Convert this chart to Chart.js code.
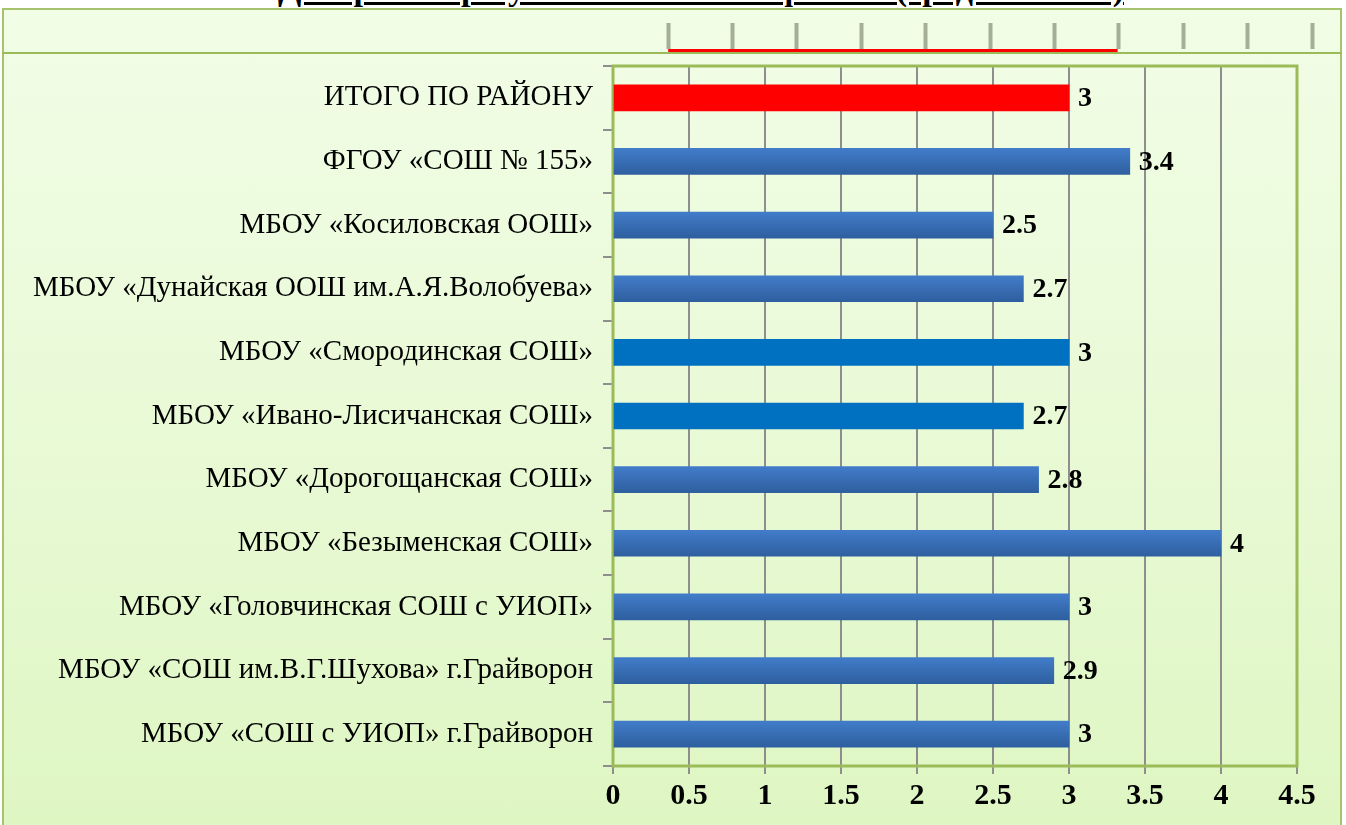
<!DOCTYPE html>
<html lang="ru">
<head>
<meta charset="utf-8">
<title>Диаграмма результатов</title>
<script src="https://cdn.jsdelivr.net/npm/chart.js@4.4.0/dist/chart.umd.min.js"></script>
<style>
    body { margin: 0; background: #fff; width: 1346px; height: 825px; overflow: hidden; position: relative; font-family: 'Liberation Serif', serif; }
    #title { position: absolute; top: -28px; left: 701px; transform: translateX(-50%); white-space: nowrap;
        font-size: 34px; line-height: 34px; font-weight: bold; text-decoration: underline; color: #000; }
    #panel { position: absolute; left: 2px; top: 8px; width: 1336px; height: 830px; border: 2px solid #A6C46E;
        background: linear-gradient(to bottom, #F1FDE6 0%, #EAFAD8 45%, #DEF6C2 100%); }
    #sep { position: absolute; left: 2px; top: 52px; width: 1340px; height: 2px; background: #9BBB59; }
    #floor { position: absolute; left: 600px; top: 8px; }
    #myChart { position: absolute; left: 0; top: 54px; }
</style>
</head>
<body>
<div id="title">Диаграмма результатов ОГЭ по физике (средний балл)</div>
<div id="panel"></div>
<div id="sep"></div>
<canvas id="floor" width="746" height="44"></canvas>
<canvas id="myChart" width="1346" height="771"></canvas>
<script>
const schools = [
    'ИТОГО ПО РАЙОНУ',
    'ФГОУ «СОШ № 155»',
    'МБОУ «Косиловская ООШ»',
    'МБОУ «Дунайская ООШ им.А.Я.Волобуева»',
    'МБОУ «Смородинская СОШ»',
    'МБОУ «Ивано-Лисичанская СОШ»',
    'МБОУ «Дорогощанская СОШ»',
    'МБОУ «Безыменская СОШ»',
    'МБОУ «Головчинская СОШ с УИОП»',
    'МБОУ «СОШ им.В.Г.Шухова» г.Грайворон',
    'МБОУ «СОШ с УИОП» г.Грайворон'
];
const scores = [3, 3.4, 2.5, 2.7, 3, 2.7, 2.8, 4, 3, 2.9, 3];
const xTicks = [0, 0.5, 1, 1.5, 2, 2.5, 3, 3.5, 4, 4.5];

// which rows are drawn in a flat colour instead of the gradient
const totalRow = 0;
const flatRows = [4, 5];

const serif = 'Liberation Serif';
const gridGray = '#8E8E8E';
const barThick = 26;

function barColor(ctx) {
    const i = ctx.dataIndex;
    if (i === totalRow) return '#FF0000';
    if (flatRows.includes(i)) return '#0070C0';
    const chart = ctx.chart;
    const yScale = chart.scales.y;
    if (!yScale || !chart.chartArea) return '#3A6FB8';
    const mid = yScale.getPixelForValue(i);
    const g = chart.ctx.createLinearGradient(0, mid - barThick / 2, 0, mid + barThick / 2);
    g.addColorStop(0, '#427CC9');
    g.addColorStop(1, '#2E5F9F');
    return g;
}

const plotBorder = {
    id: 'plotBorder',
    beforeDatasetsDraw(chart) {
        const a = chart.chartArea;
        const c = chart.ctx;
        c.save();
        c.strokeStyle = '#9BBB59';
        c.lineWidth = 3;
        c.strokeRect(a.left, a.top, a.right - a.left, a.bottom - a.top);
        c.restore();
    }
};

const valueLabels = {
    id: 'valueLabels',
    afterDatasetsDraw(chart) {
        const c = chart.ctx;
        const meta = chart.getDatasetMeta(0);
        c.save();
        c.font = 'bold 28px ' + serif;
        c.fillStyle = '#000';
        c.textBaseline = 'middle';
        c.textAlign = 'left';
        meta.data.forEach((bar, i) => {
            c.fillText(String(scores[i]), bar.x + 9, bar.y + 1);
        });
        c.restore();
    }
};

new Chart(document.getElementById('myChart').getContext('2d'), {
    type: 'bar',
    data: {
        labels: schools,
        datasets: [{
            data: scores,
            backgroundColor: barColor,
            borderWidth: 0,
            barThickness: barThick
        }]
    },
    options: {
        indexAxis: 'y',
        responsive: false,
        animation: false,
        devicePixelRatio: 1,
        events: [],
        layout: { padding: { top: 12, right: 49, bottom: 0, left: 0 } },
        plugins: { legend: { display: false }, tooltip: { enabled: false } },
        scales: {
            x: {
                min: xTicks[0],
                max: xTicks[xTicks.length - 1],
                afterBuildTicks: (s) => { s.ticks = xTicks.map(v => ({ value: v })); },
                ticks: {
                    color: '#000',
                    font: { family: serif, size: 30, weight: 'bold' },
                    padding: 4,
                    maxRotation: 0,
                    autoSkip: false,
                    callback: (v) => String(v)
                },
                grid: { color: gridGray, lineWidth: 2, tickLength: 8 },
                border: { display: false },
                afterFit: (s) => { s.height = 59; s.paddingLeft = 0; s.paddingRight = 0; }
            },
            y: {
                ticks: {
                    color: '#000',
                    font: { family: serif, size: 29 },
                    padding: 10,
                    autoSkip: false
                },
                grid: { drawOnChartArea: false, color: gridGray, lineWidth: 2, tickLength: 10, offset: true },
                border: { display: false },
                afterFit: (s) => { s.width = 613; s.paddingTop = 0; s.paddingBottom = 0; }
            }
        }
    },
    plugins: [plotBorder, valueLabels]
});

// the flat strip with tick marks above the plot
const floorMax = 4.3;
new Chart(document.getElementById('floor').getContext('2d'), {
    type: 'bar',
    data: {
        labels: [schools[totalRow]],
        datasets: [{
            data: [scores[totalRow]],
            backgroundColor: '#FF0000',
            borderWidth: 0,
            barThickness: 3
        }]
    },
    options: {
        indexAxis: 'y',
        responsive: false,
        animation: false,
        devicePixelRatio: 1,
        events: [],
        layout: { padding: { top: 15, right: 34, bottom: 0, left: 68 } },
        plugins: { legend: { display: false }, tooltip: { enabled: false } },
        scales: {
            x: {
                position: 'top',
                min: 0,
                max: floorMax,
                ticks: { display: false, count: 11 },
                grid: { drawOnChartArea: false, tickLength: 26, tickWidth: 4, tickColor: 'rgba(150,160,140,0.85)' },
                border: { display: false }
            },
            y: { display: false }
        }
    }
});
</script>
</body>
</html>
